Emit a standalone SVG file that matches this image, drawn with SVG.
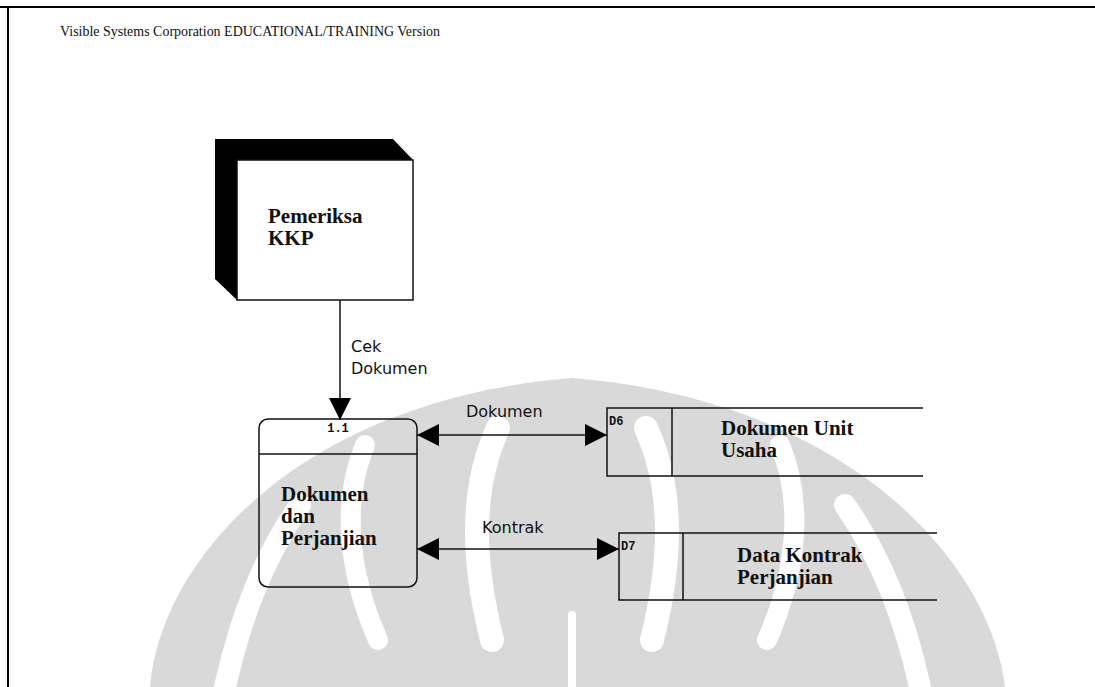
<svg xmlns="http://www.w3.org/2000/svg" width="1095" height="687" viewBox="0 0 1095 687">
  <style>
    .frame { stroke: #000; stroke-width: 2; fill: none; }
    .edge { stroke: #111; stroke-width: 1.5; fill: none; }
    .box { stroke: #111; stroke-width: 1.5; fill: none; }
    .name { font-family: "Liberation Serif", "Times New Roman", serif; font-weight: bold; font-size: 21px; fill: #111; }
    .head { font-family: "Liberation Serif", "Times New Roman", serif; font-size: 15px; fill: #111; }
    .tag { font-family: "Liberation Mono", "Courier New", monospace; font-weight: bold; font-size: 12px; fill: #111; }
    .flow { font-family: "DejaVu Sans", Verdana, sans-serif; font-size: 16px; fill: #111; }
    .wm { fill: #d9d9d9; }
    .wm-cut { stroke: #fff; fill: none; stroke-linecap: round; }
  </style>
  <defs>
    <marker id="arrow" viewBox="0 0 22 22" refX="22" refY="11" markerWidth="22" markerHeight="22" markerUnits="userSpaceOnUse" orient="auto-start-reverse">
      <path d="M0,0 L22,11 L0,22 Z" fill="#000"/>
    </marker>
  </defs>

  <rect width="1095" height="687" fill="#fff"/>

  <!-- background emblem -->
  <g id="emblem">
    <path class="wm" d="M150,687 C160,560 300,400 572,378 C845,400 990,560 1005,687 Z"/>
    <path class="wm-cut" stroke-width="24" d="M498,428 C470,490 472,560 492,640"/>
    <path class="wm-cut" stroke-width="24" d="M646,428 C674,490 672,560 652,640"/>
    <path class="wm-cut" stroke-width="20" d="M365,445 C342,500 347,570 378,640"/>
    <path class="wm-cut" stroke-width="20" d="M780,445 C803,500 798,570 767,640"/>
    <path class="wm-cut" stroke-width="22" d="M225,687 C240,620 262,560 300,505"/>
    <path class="wm-cut" stroke-width="22" d="M920,687 C905,620 883,560 845,505"/>
    <path class="wm-cut" stroke-width="8" d="M572,615 L572,690"/>
  </g>

  <!-- page frame -->
  <g id="frame">
    <path class="frame" d="M0,7 H1095 M8,7 V687"/>
    <text class="head" x="60" y="36" textLength="380" lengthAdjust="spacingAndGlyphs">Visible Systems Corporation EDUCATIONAL/TRAINING Version</text>
  </g>

  <!-- flows -->
  <g id="connectors">
    <path class="edge" d="M340,300 V420" marker-end="url(#arrow)"/>
    <path class="edge" d="M417,435 H607" marker-start="url(#arrow)" marker-end="url(#arrow)"/>
    <path class="edge" d="M417,549 H619" marker-start="url(#arrow)" marker-end="url(#arrow)"/>
    <text class="flow" x="351" y="352">Cek</text>
    <text class="flow" x="351" y="374">Dokumen</text>
    <text class="flow" x="466" y="417">Dokumen</text>
    <text class="flow" x="482" y="533">Kontrak</text>
  </g>

  <!-- external entity -->
  <g id="pemeriksa-kkp">
    <path d="M215,139 H393 L413,160 H237 V300 L215,279 Z" fill="#000"/>
    <rect class="box" x="237" y="160" width="176" height="140" fill="#fff"/>
    <text class="name" x="268" y="223">Pemeriksa</text>
    <text class="name" x="268" y="245">KKP</text>
  </g>

  <!-- process 1.1 -->
  <g id="process-1-1">
    <rect class="box" x="259" y="419" width="158" height="168" rx="9"/>
    <path class="box" d="M259,454 H417"/>
    <text class="tag" x="338" y="432" text-anchor="middle">1.1</text>
    <text class="name" x="281" y="501">Dokumen</text>
    <text class="name" x="281" y="523">dan</text>
    <text class="name" x="281" y="545">Perjanjian</text>
  </g>

  <!-- data store D6 -->
  <g id="store-d6">
    <path class="box" d="M923,408 H607 V476 H923 M672,408 V476"/>
    <text class="tag" x="609" y="425" font-size="10">D6</text>
    <text class="name" x="721" y="435">Dokumen Unit</text>
    <text class="name" x="721" y="457">Usaha</text>
  </g>

  <!-- data store D7 -->
  <g id="store-d7">
    <path class="box" d="M937,533 H619 V600 H937 M683,533 V600"/>
    <text class="tag" x="621" y="550" font-size="10">D7</text>
    <text class="name" x="737" y="562">Data Kontrak</text>
    <text class="name" x="737" y="584">Perjanjian</text>
  </g>
</svg>
